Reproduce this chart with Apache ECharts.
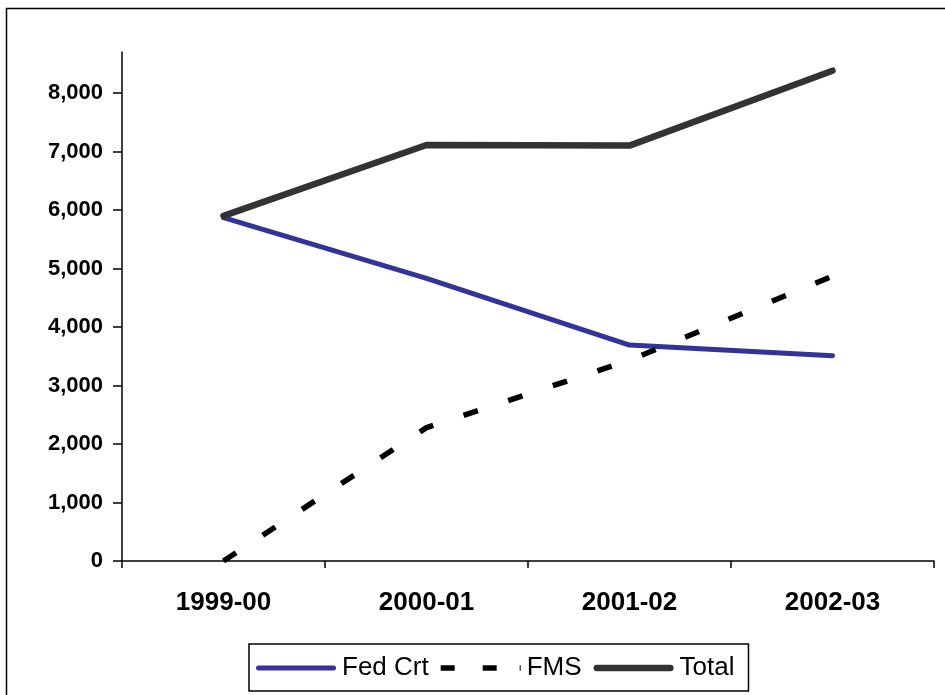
<!DOCTYPE html>
<html>
<head>
<meta charset="utf-8">
<script src="https://cdn.jsdelivr.net/npm/echarts@6/dist/echarts.min.js"></script>
<style>
  html, body { margin: 0; padding: 0; background: #fff; }
  #chart { width: 945px; height: 695px; }
</style>
</head>
<body>
<div id="chart"></div>
<script>
// Fiscal years on the category axis
const years = ['1999-00', '2000-01', '2001-02', '2002-03'];

// Series values
const fedCrt = [5870, 4830, 3690, 3510];
const fms = [0, 2280, 3430, 4870];
const total = [5900, 7110, 7100, 8380];

// Value-axis tick values
const yTicks = [0, 1000, 2000, 3000, 4000, 5000, 6000, 7000, 8000];

const chart = echarts.init(document.getElementById('chart'), null, { renderer: 'canvas' });

const fmt = v => v.toLocaleString('en-US');
const FONT = '"Liberation Sans", Arial, sans-serif';

// Legend swatches: 80-unit wide strokes (rounded ends for solid lines, dashes for FMS)
const roundBar = h => {
  const r = h / 2;
  return 'path://M' + r + ',0h' + (80 - h) + 'a' + r + ',' + r + ' 0 0 1 0,' + h +
         'h-' + (80 - h) + 'a' + r + ',' + r + ' 0 0 1 0,-' + h + 'z';
};
const dashBar = 'path://M0,0h14v5.5h-14zM42,0h14v5.5h-14zM79,0h1v5.5h-1z';

chart.setOption({
  animation: false,
  backgroundColor: '#ffffff',
  textStyle: { fontFamily: FONT },
  graphic: [{
    type: 'rect',
    left: 4, top: 6,
    shape: { width: 945, height: 700 },
    style: { fill: 'none', stroke: '#000', lineWidth: 1.5 },
    silent: true
  }],
  grid: { left: 122, right: 11, top: 52, bottom: 134, containLabel: false },
  xAxis: {
    type: 'category',
    data: years,
    boundaryGap: true,
    axisLine: { lineStyle: { color: '#000', width: 1.5 } },
    axisTick: { show: true, length: 7, inside: false, lineStyle: { color: '#000', width: 1.5 } },
    axisLabel: { color: '#000', fontWeight: 'bold', fontSize: 26, margin: 29, fontFamily: FONT },
    splitLine: { show: false }
  },
  yAxis: {
    type: 'value',
    min: 0, max: 8700,
    axisLine: { show: true, lineStyle: { color: '#000', width: 1.5 } },
    axisTick: { show: true, length: 9, lineStyle: { color: '#000', width: 1.5 }, customValues: yTicks },
    axisLabel: { color: '#000', fontWeight: 'bold', fontSize: 22, margin: 19, fontFamily: FONT,
                 customValues: yTicks, formatter: v => fmt(v) },
    splitLine: { show: false }
  },
  legend: {
    left: 249,
    bottom: 4,
    orient: 'horizontal',
    data: [
      { name: 'Fed Crt', icon: roundBar(5), itemStyle: { color: '#333399' } },
      { name: 'FMS', icon: dashBar, itemStyle: { color: '#000000' } },
      { name: 'Total', icon: roundBar(6.5), itemStyle: { color: '#333333' } }
    ],
    itemWidth: 80,
    itemHeight: 8,
    itemGap: 12,
    symbolKeepAspect: true,
    padding: [11, 14, 10, 7],
    borderColor: '#000',
    borderWidth: 1.5,
    borderRadius: 0,
    textStyle: { color: '#000', fontSize: 26, fontFamily: FONT, padding: [0, 0, 0, 1] }
  },
  series: [
    {
      name: 'Fed Crt',
      type: 'line',
      data: fedCrt,
      symbol: 'none',
      lineStyle: { color: '#333399', width: 5, cap: 'round', join: 'round' },
      itemStyle: { color: '#333399' },
      z: 2
    },
    {
      name: 'FMS',
      type: 'line',
      data: fms,
      symbol: 'none',
      lineStyle: { color: '#000000', width: 5.5, type: [15, 32], cap: 'butt' },
      itemStyle: { color: '#000000' },
      z: 3
    },
    {
      name: 'Total',
      type: 'line',
      data: total,
      symbol: 'none',
      lineStyle: { color: '#333333', width: 6.5, cap: 'round', join: 'round' },
      itemStyle: { color: '#333333' },
      z: 4
    }
  ]
});
</script>
</body>
</html>
